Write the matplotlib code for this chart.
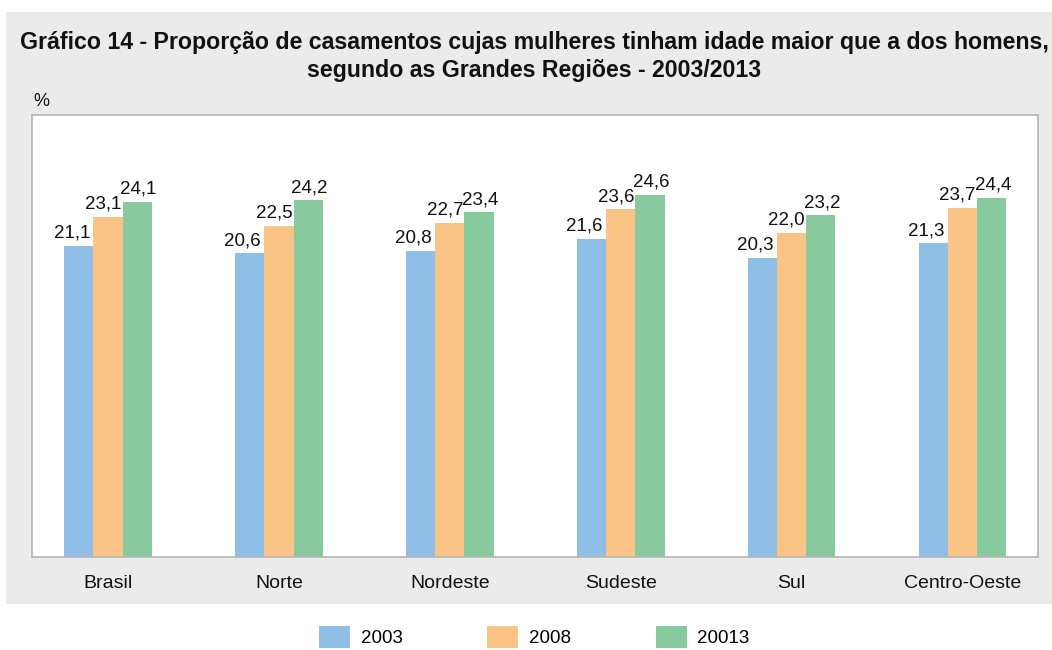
import matplotlib
matplotlib.use("Agg")
import matplotlib.pyplot as plt
from matplotlib.patches import Rectangle
import numpy as np

plt.rcParams['font.family'] = ['Liberation Sans', 'DejaVu Sans']

categories = ["Brasil", "Norte", "Nordeste", "Sudeste", "Sul", "Centro-Oeste"]
series_names = ["2003", "2008", "20013"]
v2003 = [21.1, 20.6, 20.8, 21.6, 20.3, 21.3]
v2008 = [23.1, 22.5, 22.7, 23.6, 22.0, 23.7]
v2013 = [24.1, 24.2, 23.4, 24.6, 23.2, 24.4]
colors = ["#8fbfe6", "#f9c486", "#89c99e"]

W, H = 1052, 650
fig = plt.figure(figsize=(W / 100, H / 100), dpi=100)
fig.patch.set_facecolor("white")

# grey panel
fig.patches.append(Rectangle((6 / W, 1 - 604 / H), (W - 6) / W, (604 - 12) / H,
                             transform=fig.transFigure, facecolor="#ebebeb",
                             edgecolor="none", zorder=-10))

ax = fig.add_axes([32 / W, 1 - 557 / H, 1006 / W, 442 / H])
ax.set_zorder(1)
ax.set_facecolor("white")
for s in ax.spines.values():
    s.set_color("#b5b5b5")
    s.set_linewidth(1.2)

x = np.arange(len(categories))
bw = 0.171
all_vals = [v2003, v2008, v2013]
label_dx = [-5, -3.5, 1]
for i, (vals, c, name) in enumerate(zip(all_vals, colors, series_names)):
    pos = x + (i - 1) * bw
    ax.bar(pos, vals, width=bw, color=c, label=name, zorder=2)
    for p, v in zip(pos, vals):
        ax.annotate(f"{v:.1f}".replace(".", ","), (p, v), xytext=(label_dx[i], 3),
                    textcoords="offset points", ha="center", va="bottom",
                    fontsize=13.5, color="#111111")

ax.set_xlim(-0.445, 5.442)
ax.set_ylim(0, 30)
ax.set_yticks([])
ax.set_xticks(x)
ax.set_xticklabels(categories, fontsize=14, color="#111111")
ax.tick_params(axis="x", length=0, pad=13)

fig.text(534 / W, 1 - 49 / H,
         "Gráfico 14 - Proporção de casamentos cujas mulheres tinham idade maior que a dos homens,",
         ha="center", va="baseline", fontsize=16.7, fontweight="bold", color="#111111")
fig.text(534 / W, 1 - 77 / H, "segundo as Grandes Regiões - 2003/2013",
         ha="center", va="baseline", fontsize=16.7, fontweight="bold", color="#111111")
fig.text(33 / W, 1 - 106 / H, "%", ha="left", va="baseline", fontsize=13, color="#111111")

handles = [Rectangle((0, 0), 1, 1, facecolor=c, edgecolor="none") for c in colors]
leg = fig.legend(handles, series_names, loc="center", bbox_to_anchor=(534.5 / W, 1 - 637 / H),
                 ncol=3, frameon=False, fontsize=13.5, handlelength=1.65, handleheight=1.4,
                 columnspacing=4.5, handletextpad=0.58)

fig.savefig("out.png", dpi=100)
